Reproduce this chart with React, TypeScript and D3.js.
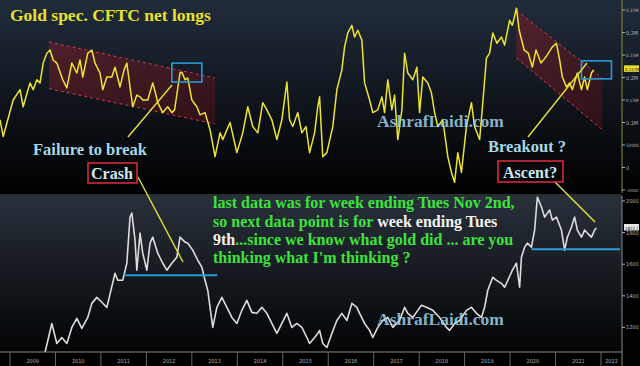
import React from 'react';
import * as d3 from 'd3';

// CFTC gold speculative net longs (decimal year, contracts)
const netYears = [2008.78, 2008.85, 2009.07, 2009.22, 2009.29, 2009.44, 2009.51, 2009.59, 2009.66, 2009.73, 2009.81, 2009.88, 2009.95, 2010.03, 2010.16, 2010.25, 2010.36, 2010.47, 2010.54, 2010.6, 2010.71, 2010.8, 2010.87, 2010.98, 2011.04, 2011.13, 2011.24, 2011.31, 2011.42, 2011.51, 2011.57, 2011.64, 2011.7, 2011.79, 2011.86, 2011.92, 2012.03, 2012.14, 2012.21, 2012.25, 2012.36, 2012.47, 2012.56, 2012.62, 2012.74, 2012.78, 2012.85, 2012.91, 2013.0, 2013.11, 2013.18, 2013.29, 2013.4, 2013.51, 2013.62, 2013.68, 2013.84, 2013.99, 2014.12, 2014.23, 2014.34, 2014.45, 2014.56, 2014.65, 2014.76, 2014.87, 2014.98, 2015.09, 2015.15, 2015.22, 2015.33, 2015.42, 2015.51, 2015.59, 2015.7, 2015.77, 2015.81, 2015.88, 2015.97, 2016.1, 2016.19, 2016.3, 2016.36, 2016.43, 2016.52, 2016.58, 2016.65, 2016.74, 2016.8, 2016.91, 2016.98, 2017.09, 2017.18, 2017.24, 2017.31, 2017.4, 2017.46, 2017.53, 2017.62, 2017.68, 2017.75, 2017.86, 2017.95, 2018.01, 2018.08, 2018.19, 2018.27, 2018.34, 2018.41, 2018.52, 2018.63, 2018.71, 2018.78, 2018.85, 2018.93, 2019.04, 2019.15, 2019.22, 2019.33, 2019.4, 2019.48, 2019.55, 2019.62, 2019.71, 2019.81, 2019.88, 2019.99, 2020.05, 2020.14, 2020.2, 2020.31, 2020.4, 2020.49, 2020.57, 2020.68, 2020.79, 2020.93, 2021.02, 2021.09, 2021.15, 2021.24, 2021.31, 2021.37, 2021.48, 2021.57, 2021.64, 2021.7, 2021.79, 2021.84];
const netLongs = [106, 69, 150, 173, 135, 188, 173, 195, 188, 232, 254, 261, 239, 232, 195, 177, 232, 210, 239, 201, 254, 261, 232, 210, 173, 201, 201, 223, 179, 217, 232, 179, 135, 161, 157, 150, 150, 188, 161, 144, 122, 135, 122, 128, 210, 212, 195, 199, 150, 135, 117, 122, 84, 24, 77, 62, 100, 33, 77, 135, 91, 77, 144, 128, 106, 62, 106, 190, 106, 91, 122, 77, 91, 33, 77, 135, 157, 24, 33, 91, 173, 217, 268, 299, 316, 290, 305, 283, 188, 150, 122, 128, 157, 122, 195, 128, 161, 62, 128, 254, 210, 195, 223, 122, 201, 188, 166, 122, 91, 106, 24, -11, -33, 33, -11, 91, 144, 91, 62, 144, 243, 254, 299, 276, 290, 272, 327, 316, 354, 305, 261, 254, 223, 261, 232, 246, 268, 276, 239, 201, 179, 188, 173, 210, 173, 201, 173, 210, 217].map(v => v * 1000);

// Gold price (decimal year, USD/oz)
const goldYears = [2009.5, 2009.7, 2009.77, 2009.92, 2010.03, 2010.14, 2010.25, 2010.36, 2010.47, 2010.58, 2010.71, 2010.8, 2010.91, 2011.02, 2011.13, 2011.31, 2011.37, 2011.48, 2011.57, 2011.64, 2011.68, 2011.75, 2011.79, 2011.86, 2011.92, 2012.01, 2012.08, 2012.14, 2012.25, 2012.36, 2012.45, 2012.56, 2012.67, 2012.74, 2012.85, 2012.91, 2013.02, 2013.13, 2013.22, 2013.29, 2013.35, 2013.46, 2013.55, 2013.66, 2013.77, 2013.88, 2013.99, 2014.1, 2014.21, 2014.32, 2014.43, 2014.54, 2014.65, 2014.76, 2014.87, 2014.98, 2015.09, 2015.2, 2015.31, 2015.42, 2015.53, 2015.59, 2015.7, 2015.77, 2015.81, 2015.88, 2015.97, 2016.08, 2016.19, 2016.3, 2016.41, 2016.52, 2016.63, 2016.69, 2016.8, 2016.91, 2016.98, 2017.09, 2017.2, 2017.31, 2017.42, 2017.57, 2017.68, 2017.75, 2017.86, 2017.97, 2018.05, 2018.16, 2018.3, 2018.45, 2018.6, 2018.67, 2018.78, 2018.89, 2019.04, 2019.15, 2019.26, 2019.37, 2019.44, 2019.51, 2019.62, 2019.7, 2019.81, 2019.88, 2019.95, 2020.05, 2020.14, 2020.21, 2020.25, 2020.32, 2020.38, 2020.47, 2020.54, 2020.6, 2020.69, 2020.76, 2020.87, 2020.93, 2021.02, 2021.13, 2021.2, 2021.26, 2021.35, 2021.42, 2021.48, 2021.57, 2021.64, 2021.7, 2021.79, 2021.86, 2021.9];
const goldPrice = [930, 1000, 1041, 1225, 1098, 1136, 1098, 1200, 1257, 1194, 1263, 1352, 1390, 1359, 1327, 1543, 1498, 1498, 1606, 1898, 1924, 1752, 1562, 1797, 1670, 1562, 1733, 1771, 1670, 1606, 1562, 1606, 1644, 1771, 1740, 1733, 1689, 1625, 1581, 1498, 1435, 1200, 1327, 1390, 1327, 1263, 1225, 1308, 1371, 1295, 1289, 1327, 1289, 1225, 1162, 1225, 1289, 1200, 1225, 1200, 1136, 1098, 1136, 1162, 1181, 1098, 1073, 1162, 1244, 1289, 1244, 1352, 1327, 1289, 1225, 1181, 1136, 1200, 1244, 1263, 1200, 1244, 1327, 1289, 1263, 1308, 1340, 1327, 1308, 1263, 1200, 1181, 1225, 1244, 1308, 1327, 1289, 1263, 1327, 1435, 1517, 1498, 1479, 1454, 1498, 1562, 1606, 1454, 1644, 1708, 1733, 1708, 1816, 2025, 1962, 1898, 1943, 1879, 1898, 1816, 1689, 1771, 1835, 1898, 1816, 1771, 1816, 1797, 1771, 1816, 1829];

const yearLabels = ['2009', '2010', '2011', '2012', '2013', '2014', '2015', '2016', '2017', '2018', '2019', '2020', '2021', '2022'];
const netTicks = [350000, 300000, 250000, 200000, 150000, 100000, 50000, 0, -50000];
const netTickLabels = ['0.35M', '0.3M', '0.25M', '0.2M', '0.15M', '0.1M', '50000', '0', '-50000'];
const goldTicks = [2000, 1800, 1600, 1400, 1200];

const W = 640;
const H = 366;
const AXIS_X = 622;
const TOP = { y0: 0, y1: 193 };
const BOT = { y0: 196, y1: 352 };

const x = d3.scaleLinear().domain([2009, 2022]).range([10, 601]);
const yNet = d3.scaleLinear().domain([-50000, 350000]).range([190, 10]);
const yGold = d3.scaleLinear().domain([1000, 2000]).range([359, 201]);

const serif = '"Liberation Serif", "Times New Roman", serif';
const small = '"DejaVu Sans Condensed", "DejaVu Sans", sans-serif';

// long labels get a smaller font so they stay inside the window
const labelSize = (s: string) => (s.length > 5 ? 3.9 : s.length > 4 ? 4.5 : 5.5);

const App = () => {
  const netLine = d3.line<number>().x((d, i) => x(netYears[i])).y(d => yNet(d));
  const goldLine = d3.line<number>().x((d, i) => x(goldYears[i])).y(d => yGold(d));

  // channels in data space [year, value]
  const leftChannel: [number, number][] = [[2009.86, 279000], [2013.51, 199000], [2013.51, 97000], [2009.86, 175000]];
  const rightChannel: [number, number][] = [[2020.14, 349000], [2022.03, 199000], [2022.03, 84000], [2020.14, 243000]];
  const poly = (pts: [number, number][]) => pts.map(p => `${x(p[0])},${yNet(p[1])}`).join(' ');

  const box = (y0: number, y1: number, v0: number, v1: number) => ({
    x: x(y0), y: yNet(v0), w: x(y1) - x(y0), h: yNet(v1) - yNet(v0)
  });
  const leftBox = box(2012.56, 2013.22, 232000, 190000);
  const rightBox = box(2021.57, 2022.23, 237000, 197000);

  const lastNet = netLongs[netLongs.length - 1];
  const lastGold = 1822.7;

  return (
    <svg width={W} height={H} style={{ display: 'block', position: 'absolute', left: 0, top: 0 }}>
      <defs>
        <linearGradient id="topBg" x1="0" y1="0" x2="0" y2="1">
          <stop offset="0%" stopColor="#212c3b" />
          <stop offset="100%" stopColor="#000000" />
        </linearGradient>
        <linearGradient id="botBg" x1="0" y1="0" x2="0" y2="1">
          <stop offset="0%" stopColor="#28303a" />
          <stop offset="100%" stopColor="#030405" />
        </linearGradient>
        <linearGradient id="chanFill" x1="0" y1="0" x2="1" y2="1">
          <stop offset="0%" stopColor="#7a1f28" stopOpacity={0.55} />
          <stop offset="100%" stopColor="#5a1018" stopOpacity={0.45} />
        </linearGradient>
        <clipPath id="clipTop"><rect x={0} y={TOP.y0} width={AXIS_X} height={TOP.y1 - TOP.y0} /></clipPath>
        <clipPath id="clipBot"><rect x={0} y={BOT.y0} width={AXIS_X} height={BOT.y1 - BOT.y0} /></clipPath>
      </defs>

      <rect x={0} y={0} width={W} height={H} fill="#000" />
      <rect x={0} y={TOP.y0} width={W} height={TOP.y1 - TOP.y0} fill="url(#topBg)" />
      <rect x={0} y={BOT.y0} width={AXIS_X} height={BOT.y1 - BOT.y0} fill="url(#botBg)" />
      <line x1={0} x2={AXIS_X} y1={BOT.y0 - 1} y2={BOT.y0 - 1} stroke="#555a60" strokeWidth={1} />

      {/* channels */}
      <polygon points={poly(leftChannel)} fill="url(#chanFill)" />
      <polygon points={poly(rightChannel)} fill="url(#chanFill)" />
      {[leftChannel, rightChannel].map((c, i) => (
        <g key={i} stroke="#d8344a" strokeWidth={1} strokeDasharray="3,3">
          <line x1={x(c[0][0])} y1={yNet(c[0][1])} x2={x(c[1][0])} y2={yNet(c[1][1])} />
          <line x1={x(c[3][0])} y1={yNet(c[3][1])} x2={x(c[2][0])} y2={yNet(c[2][1])} />
        </g>
      ))}

      {/* net longs */}
      <path d={netLine(netLongs) || ''} fill="none" stroke="#ede431" strokeWidth={1.5} clipPath="url(#clipTop)" strokeLinejoin="round" />

      {/* gold */}
      <path d={goldLine(goldPrice) || ''} fill="none" stroke="#dcdcdc" strokeWidth={1.6} clipPath="url(#clipBot)" strokeLinejoin="round" />

      {/* support lines */}
      <line x1={x(2011.51)} x2={x(2013.56)} y1={yGold(1530)} y2={yGold(1530)} stroke="#2a9ad8" strokeWidth={2} />
      <line x1={x(2020.47)} x2={AXIS_X - 2} y1={yGold(1695)} y2={yGold(1695)} stroke="#2a9ad8" strokeWidth={2} />

      {/* boxes */}
      {[leftBox, rightBox].map((b, i) => (
        <rect key={i} x={b.x} y={b.y} width={b.w} height={b.h} fill="none" stroke="#2a9ad8" strokeWidth={1.6} />
      ))}

      {/* annotation pointers */}
      <g stroke="#e2e23a" strokeWidth={1.4}>
        <line x1={128} y1={137} x2={172} y2={85} />
        <line x1={138} y1={177} x2={183} y2={262} />
        <line x1={528} y1={137} x2={587} y2={63} />
        <line x1={555} y1={182} x2={595} y2={222} />
      </g>

      {/* right axes */}
      <line x1={AXIS_X} x2={AXIS_X} y1={0} y2={TOP.y1} stroke="#8c8a3c" strokeWidth={1} />
      <line x1={AXIS_X} x2={AXIS_X} y1={BOT.y0} y2={BOT.y1} stroke="#8a8a8a" strokeWidth={1} />
      <g fontFamily={small} fill="#b0b0b0">
        {netTicks.map((t, i) => (
          <g key={t}>
            <line x1={AXIS_X} x2={AXIS_X + 3} y1={yNet(t)} y2={yNet(t)} stroke="#aaa" />
            <text x={AXIS_X + 4} y={yNet(t) + 2} fontSize={labelSize(netTickLabels[i])}>{netTickLabels[i]}</text>
          </g>
        ))}
        {goldTicks.map(t => (
          <g key={t}>
            <line x1={AXIS_X} x2={AXIS_X + 3} y1={yGold(t)} y2={yGold(t)} stroke="#aaa" />
            <text x={AXIS_X + 4} y={yGold(t) + 2} fontSize={5.5}>{t}</text>
          </g>
        ))}
        <rect x={AXIS_X + 2} y={yNet(lastNet) - 4.5} width={15} height={6.5} fill="#e8e030" />
        <text x={AXIS_X + 3} y={yNet(lastNet) + 1} fontSize={4.3} fill="#222">{(lastNet / 1e6).toFixed(3)}M</text>
        <rect x={AXIS_X + 2} y={yGold(lastGold) - 5} width={15} height={6.5} fill="#e8e8e8" />
        <text x={AXIS_X + 3} y={yGold(lastGold) + 0.5} fontSize={4.3} fill="#222">{lastGold}</text>
      </g>

      {/* x axis */}
      <line x1={0} x2={AXIS_X} y1={BOT.y1} y2={BOT.y1} stroke="#8a8a8a" />
      {yearLabels.map(l => {
        const yr = +l;
        const mid = Math.min(x(yr + 0.5), (x(yr) + AXIS_X) / 2);
        return (
          <g key={l}>
            <line x1={x(yr)} x2={x(yr)} y1={BOT.y1} y2={H} stroke="#666" />
            <text x={mid} y={363} fontSize={5.5} textAnchor="middle" fill="#b0b0b0" fontFamily={small}>{l}</text>
          </g>
        );
      })}
      <line x1={AXIS_X} x2={AXIS_X} y1={BOT.y1} y2={H} stroke="#8a8a8a" />

      {/* texts */}
      <g fontFamily={serif} fontWeight="bold">
        <text x={10} y={21} fontSize={17.5} fill="#e8e02a">Gold spec. CFTC net longs</text>
        <text x={33} y={155} fontSize={16.5} fill="#a6d8ea">Failure to break</text>
        <rect x={88} y={163} width={49} height={20} fill="none" stroke="#d8283a" strokeWidth={1.6} />
        <text x={91} y={179} fontSize={16} fill="#cfe8f2">Crash</text>
        <text x={488} y={152} fontSize={16.5} fill="#a6d8ea">Breakout ?</text>
        <rect x={498} y={161} width={65} height={21} fill="none" stroke="#d8283a" strokeWidth={1.6} />
        <text x={503} y={178} fontSize={16} fill="#cfe8f2">Ascent?</text>
        <text x={377} y={127} fontSize={17.5} fill="#9fd0ea" fillOpacity={0.85}>AshrafLaidi.com</text>
        <text x={377} y={325} fontSize={17.5} fill="#9fd0ea" fillOpacity={0.85}>AshrafLaidi.com</text>
        <g fontSize={16} fill="#3ee23c">
          <text x={213} y={208}>last data was for week ending Tues Nov 2nd,</text>
          <text x={213} y={227}>so next data point is for <tspan fill="#f2f2f2">week ending Tues</tspan></text>
          <text x={213} y={245}><tspan fill="#f2f2f2">9th</tspan>...since we know what gold did ... are you</text>
          <text x={213} y={263}>thinking what I'm thinking ?</text>
        </g>
      </g>
    </svg>
  );
};

export default App;
